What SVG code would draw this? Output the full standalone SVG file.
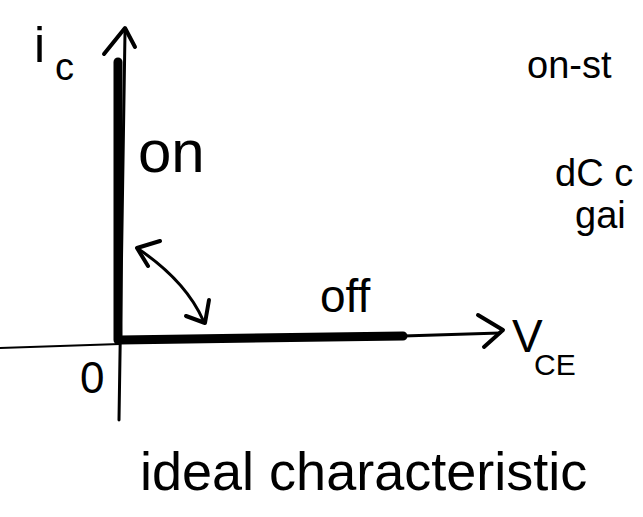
<svg xmlns="http://www.w3.org/2000/svg" width="643" height="517" viewBox="0 0 643 517">
<style>
.t{font-family:"Liberation Sans",Arial,sans-serif;fill:#000}
.ln{stroke:#000;fill:none;stroke-linecap:round;stroke-linejoin:round}
</style>
<rect width="643" height="517" fill="#fff"/>
<g id="connectors">
<path class="ln" d="M125 32 L119 420" stroke-width="3"/>
<path class="ln" d="M104 54 L125 28 L135 47" stroke-width="4"/>
<path class="ln" d="M118 62 L118 340" stroke-width="9"/>
<path class="ln" d="M0 348 L120 344" stroke-width="2"/>
<path class="ln" d="M120 340 L403 336 L500 333" stroke-width="3"/>
<path class="ln" d="M120 340 L403 336" stroke-width="9"/>
<path class="ln" d="M478 315 L503 330 L484 347" stroke-width="4"/>
<path class="ln" d="M137 248 Q185 280 203 320" stroke-width="3"/>
<path class="ln" d="M160 241 L137 248 L148 266" stroke-width="4"/>
<path class="ln" d="M209 300 L205 323 L186 316" stroke-width="4"/>
</g>
<g id="ic"><text class="t" x="34" y="62" font-size="50">i</text><text class="t" x="55" y="80" font-size="38">c</text></g>
<g id="on"><text class="t" x="138" y="172" font-size="60">on</text></g>
<g id="off"><text class="t" x="320" y="312" font-size="46">off</text></g>
<g id="vce"><text class="t" x="512" y="352" font-size="46">V</text><text class="t" x="534" y="375" font-size="30">CE</text></g>
<g id="zero"><text class="t" x="80" y="393" font-size="44">0</text></g>
<g id="onst"><text class="t" x="527" y="78" font-size="38">on-st</text></g>
<g id="dcc"><text class="t" x="555" y="186" font-size="38">dC c</text><text class="t" x="575" y="228" font-size="38">gai</text></g>
<g id="caption"><text class="t" x="140" y="490" font-size="54">ideal characteristic</text></g>
</svg>
